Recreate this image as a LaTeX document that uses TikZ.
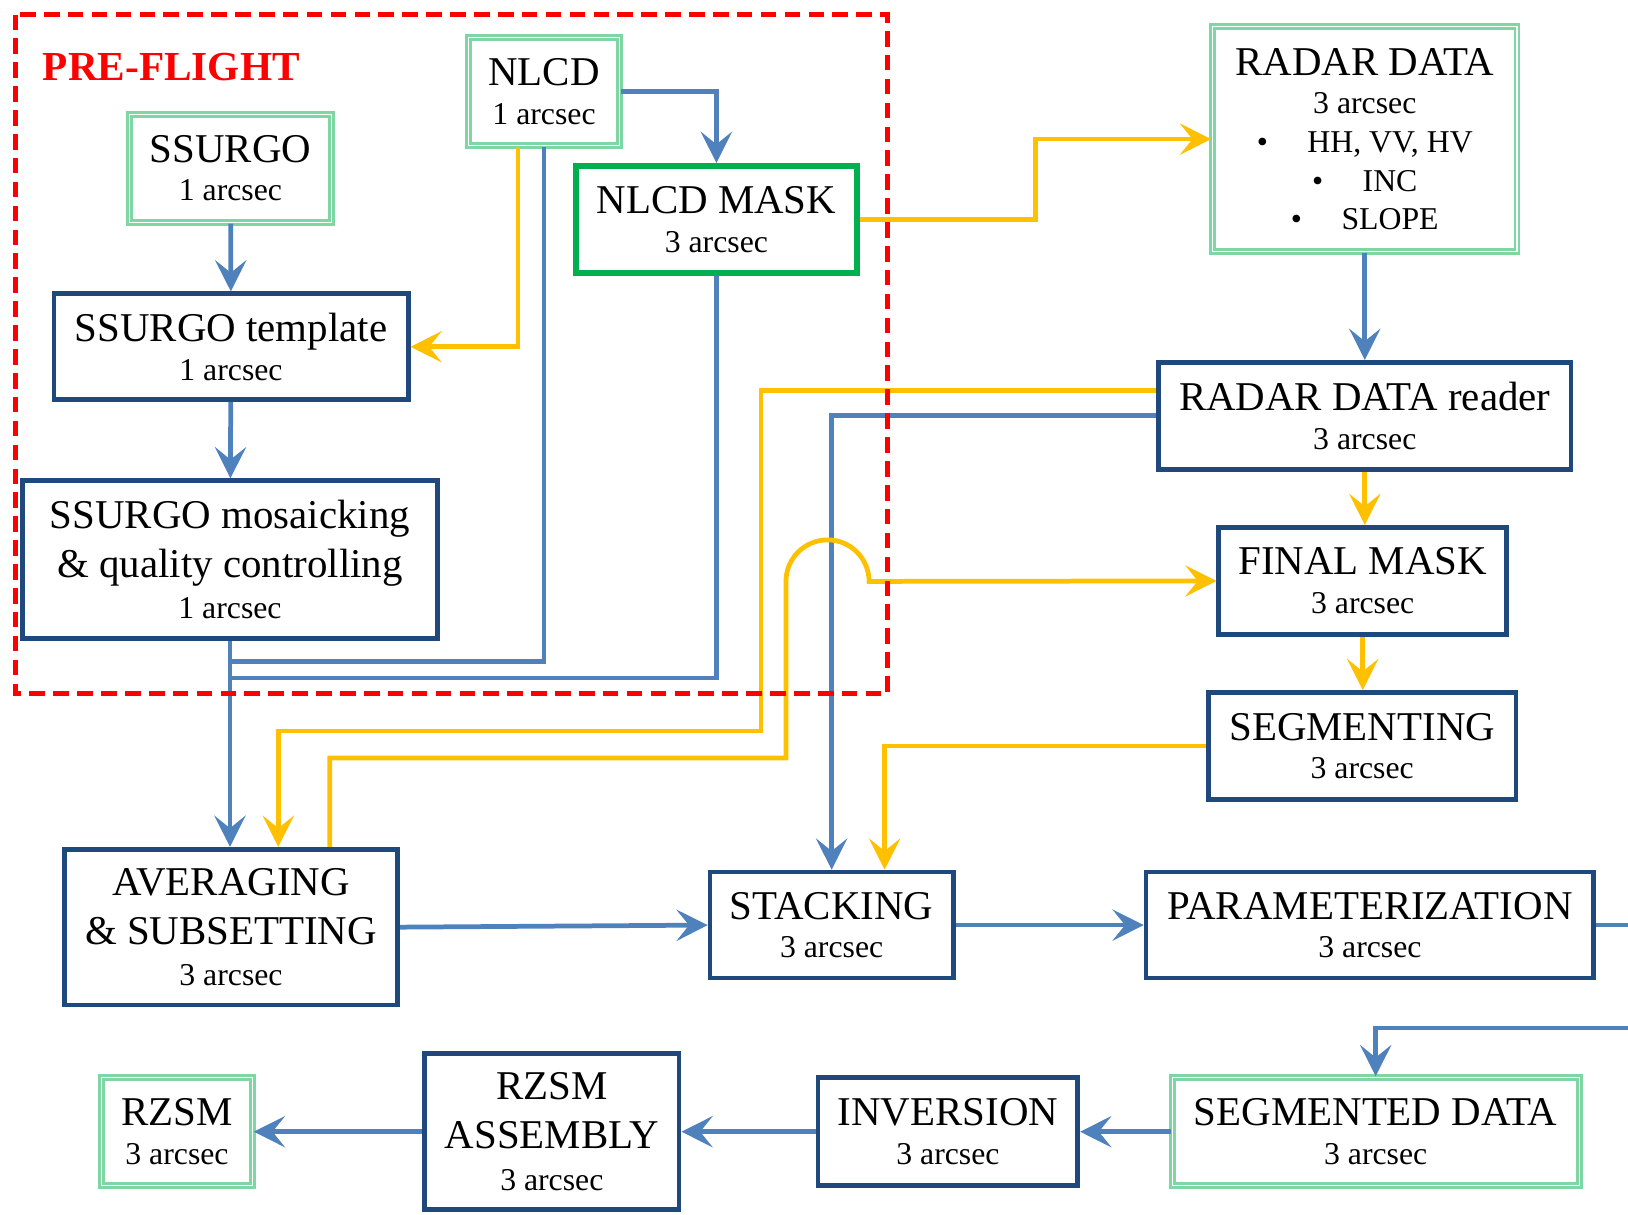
\documentclass[tikz,border=0pt]{standalone}
\usepackage{fontspec}
\setmainfont{Liberation Serif}
\usetikzlibrary{arrows.meta}
\definecolor{boxblue}{HTML}{1F497D}
\definecolor{linkblue}{HTML}{4F81BD}
\definecolor{linkyellow}{HTML}{FFC000}
\definecolor{datagreen}{HTML}{7ED6A5}
\definecolor{maskgreen}{HTML}{00B050}
\newcommand{\arcs}[1]{{\fontsize{8.7}{10.5}\selectfont #1}}

\begin{document}
\begin{tikzpicture}[
    x=0.01cm, y=-0.01cm,
    box/.style={rectangle, draw=boxblue, line width=1.3pt, fill=white,
                align=center, inner sep=2pt,
                font=\fontsize{11.2}{10.6}\selectfont},
    databox/.style={box, draw=datagreen, line width=0.8pt,
                    double=white, double distance=0.3pt},
    maskbox/.style={box, draw=maskgreen, line width=1.7pt},
    link/.style={line width=1.3pt, draw=linkblue},
    linkarr/.style={link, -{Stealth[length=0.3cm, width=0.3cm, inset=0.12cm]}},
    feed/.style={line width=1.3pt, draw=linkyellow},
    feedarr/.style={feed, -{Stealth[length=0.3cm, width=0.3cm, inset=0.12cm]}}
]
\useasboundingbox (0,0) rectangle (1568,1170);
\clip (0,0) rectangle (1568,1170);

% pre-flight part
\node[font=\fontsize{11.3}{13}\selectfont\bfseries, text=red] (preflight) at (165,65) {PRE-FLIGHT};
\node[databox, minimum width=1.94cm, minimum height=1.04cm] (ssurgo) at (222,162) {SSURGO\\\arcs{1 arcsec}};
\node[databox, minimum width=1.46cm, minimum height=1.04cm] (nlcd) at (524,88) {NLCD\\\arcs{1 arcsec}};
\node[maskbox, minimum width=2.70cm, minimum height=1.03cm] (nlcdmask) at (690,211.5) {NLCD MASK\\\arcs{3 arcsec}};
\node[box, minimum width=3.41cm, minimum height=1.02cm] (template) at (222.5,334) {SSURGO template\\\arcs{1 arcsec}};
\node[box, minimum width=3.99cm, minimum height=1.52cm] (mosaic) at (221.5,539) {SSURGO mosaicking\\[2.8pt]\& quality controlling\\[0.8pt]\arcs{1 arcsec}};

% radar part
\node[databox, minimum width=2.93cm, minimum height=2.16cm] (radar) at (1314.5,134) {RADAR DATA\\\arcs{3 arcsec}\\
    \arcs{\textbullet\hspace{0.38cm}HH, VV, HV}\\\arcs{\textbullet\hspace{0.38cm}INC}\\\arcs{\textbullet\hspace{0.38cm}SLOPE}};
\node[box, minimum width=3.97cm, minimum height=1.03cm] (reader) at (1314.5,400.5) {RADAR DATA reader\\\arcs{3 arcsec}};
\node[box, minimum width=2.77cm, minimum height=1.03cm] (finalmask) at (1312.5,559.5) {FINAL MASK\\\arcs{3 arcsec}};
\node[box, minimum width=2.96cm, minimum height=1.03cm] (segmenting) at (1312,718.5) {SEGMENTING\\\arcs{3 arcsec}};

% processing chain
\node[box, minimum width=3.21cm, minimum height=1.50cm] (averaging) at (222.5,893) {AVERAGING\\[2.8pt]\& SUBSETTING\\[0.8pt]\arcs{3 arcsec}};
\node[box, minimum width=2.34cm, minimum height=1.02cm] (stacking) at (801,891) {STACKING\\\arcs{3 arcsec}};
\node[box, minimum width=4.31cm, minimum height=1.02cm] (param) at (1319.5,891) {PARAMETERIZATION\\\arcs{3 arcsec}};
\node[databox, minimum width=3.92cm, minimum height=1.04cm] (segdata) at (1325,1090) {SEGMENTED DATA\\\arcs{3 arcsec}};
\node[box, minimum width=2.50cm, minimum height=1.04cm] (inversion) at (913,1090) {INVERSION\\\arcs{3 arcsec}};
\node[box, minimum width=2.45cm, minimum height=1.50cm] (assembly) at (531.5,1090) {RZSM\\[2.8pt]ASSEMBLY\\[0.8pt]\arcs{3 arcsec}};
\node[databox, minimum width=1.45cm, minimum height=1.04cm] (rzsm) at (170.5,1090) {RZSM\\\arcs{3 arcsec}};

% bends
\coordinate (nlcdjoin) at (222,637);
\coordinate (maskjoin) at (222,653);
\coordinate (radarstep) at (997,134);
\coordinate (readerdrop) at (733,704);
\coordinate (humpfoot) at (757,730);
\coordinate (humpstart) at (757,560);
\coordinate (paramturn) at (1600,990);

% blue links
\draw[linkarr] (ssurgo) -- (template);
\draw[linkarr] (template) -- (mosaic);
\draw[linkarr] (nlcd.east) -| (nlcdmask.north);
\draw[linkarr] (mosaic.south) -- (mosaic.south |- averaging.north);
\draw[link] (nlcd.south) |- (nlcdjoin);
\draw[link] (nlcdmask.south) |- (maskjoin);
\draw[linkarr] (radar) -- (reader);
\draw[linkarr] (reader.west) -| (stacking.north);
\draw[linkarr] (averaging.east) -- (stacking.west);
\draw[linkarr] (stacking) -- (param);
\draw[linkarr] (param.east) -| (paramturn) -| (segdata.north);
\draw[linkarr] (segdata) -- (inversion);
\draw[linkarr] (inversion) -- (assembly);
\draw[linkarr] (assembly) -- (rzsm);

% yellow links
\draw[feedarr] ([xshift=-0.25cm]nlcd.south) |- (template.east);
\draw[feedarr] (nlcdmask.east) -| (radarstep) -- (radar.west);
\draw[feedarr] ([yshift=0.245cm]reader.west) -| (readerdrop) -| ([xshift=0.455cm]averaging.north);
\draw[feedarr] (reader.south) -- (reader.south |- finalmask.north);
\draw[feedarr] ([xshift=0.95cm]averaging.north) |- (humpfoot) -- (humpstart)
    arc[start angle=180, end angle=0, radius=0.4cm] -- (finalmask.west);
\draw[feedarr] (finalmask.south) -- (finalmask.south |- segmenting.north);
\draw[feedarr] (segmenting.west) -| ([xshift=0.51cm]stacking.north);

% pre-flight frame
\draw[red, line width=1.4pt, dash pattern=on 0.15cm off 0.08cm] (15,14) rectangle (855,668);
\end{tikzpicture}
\end{document}
